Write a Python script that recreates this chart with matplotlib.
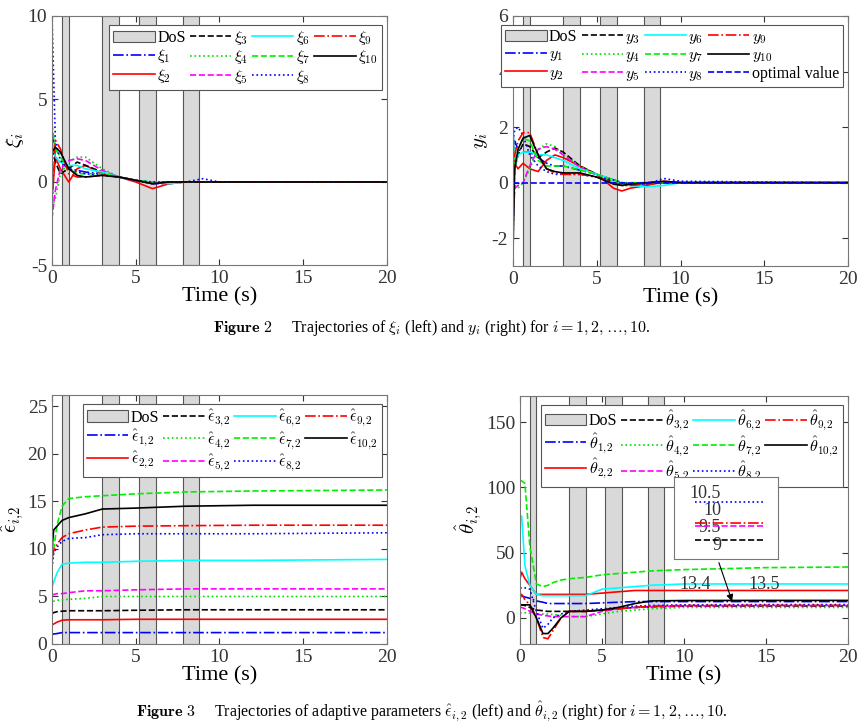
import numpy as np
import matplotlib
matplotlib.use("Agg")
import matplotlib.pyplot as plt

plt.rcParams['font.family'] = ['Liberation Serif', 'DejaVu Serif']
plt.rcParams['mathtext.fontset'] = 'cm'
plt.rcParams['axes.unicode_minus'] = False

# DoS intervals (s)
dos = [(0.6, 1.0), (3.0, 4.0), (5.2, 6.2), (7.8, 8.8)]

# ---- Figure 2 left: xi_i ----
t_xi = [0, 0.2, 0.5, 1, 1.5, 2, 3, 4, 5, 6, 7, 8, 9, 10, 20]
xi = [
    [3, 1.5, 1.2, 0.8, 0.7, 0.6, 0.5, 0.3, 0.1, -0.1, -0.1, 0, 0, 0, 0],
    [-1, 1.5, 0.8, 0, 0.8, 1.0, 0.5, 0.3, 0, -0.4, -0.1, 0, 0, 0, 0],
    [2, 1.2, 0.5, 0.8, 1.2, 1.0, 0.6, 0.3, 0.1, -0.1, 0, 0, 0, 0, 0],
    [-1.5, -1, 0.5, 1.2, 1.5, 1.5, 0.8, 0.3, 0.1, -0.1, 0, 0, 0, 0, 0],
    [-2.2, -0.5, 0.8, 1.3, 1.4, 1.3, 0.7, 0.3, 0.1, -0.1, 0, 0, 0, 0, 0],
    [2.5, 1.5, 1.2, 1.0, 1.0, 0.8, 0.6, 0.3, 0.1, 0, -0.1, 0, 0, 0, 0],
    [3.5, 2.0, 1.5, 0.8, 0.5, 0.5, 0.5, 0.3, 0.1, 0, 0, 0, 0, 0, 0],
    [10, 2.5, 1.3, 0.8, 0.6, 0.5, 0.4, 0.3, 0.1, 0, 0, 0, 0.2, 0, 0],
    [-1.5, 2.5, 2.0, 0.5, 0.3, 0.3, 0.4, 0.3, 0.1, -0.1, 0, 0, 0, 0, 0],
    [1.8, 2.1, 1.8, 0.8, 0.4, 0.3, 0.4, 0.3, 0.1, -0.1, 0, 0, 0, 0, 0],
]

# ---- Figure 2 right: y_i ----
t_y = [0, 0.1, 0.3, 0.6, 1, 1.5, 2, 2.5, 3, 4, 5, 6, 6.5, 7, 8, 9, 10, 20]
yv = [
    [-1.8, 1.5, 1.2, 1.1, 1.1, 0.9, 0.7, 0.6, 0.6, 0.45, 0.3, 0.1, 0, -0.05, -0.05, 0, 0, 0],
    [1.8, 0.7, 0.5, 0.7, 0.5, 0.4, 0.8, 1.0, 0.9, 0.6, 0.3, -0.2, -0.3, -0.2, -0.1, 0.05, 0, 0],
    [-1, 0.5, 1.0, 1.4, 1.3, 0.9, 1.1, 1.25, 1.1, 0.6, 0.3, 0, -0.05, -0.05, 0, 0, 0, 0],
    [-2, -0.1, -0.2, 0, 0.5, 1.2, 1.4, 1.3, 1.0, 0.6, 0.3, 0, -0.1, -0.1, -0.05, 0, 0, 0],
    [-1.5, -0.2, -0.1, 0, 0.6, 1.2, 1.3, 1.2, 1.0, 0.55, 0.3, 0.1, 0, -0.05, 0, 0, 0, 0],
    [2.0, 0.5, 1.0, 1.1, 1.1, 1.0, 1.0, 0.9, 0.8, 0.5, 0.3, 0.1, -0.05, -0.1, -0.15, -0.1, 0, 0],
    [1.2, 0.5, 1.2, 1.6, 1.5, 0.8, 0.6, 0.6, 0.6, 0.45, 0.3, 0.1, 0, 0, 0, 0, 0, 0],
    [1.5, 1.9, 2.0, 1.7, 1.0, 0.6, 0.4, 0.3, 0.3, 0.3, 0.2, 0.1, 0, -0.05, -0.05, 0.15, 0.05, 0],
    [-1, 1.0, 1.5, 1.8, 1.8, 1.0, 0.5, 0.35, 0.3, 0.3, 0.2, 0, -0.1, -0.1, -0.05, 0, 0, 0],
    [-2.5, 0.5, 1.2, 1.6, 1.7, 1.0, 0.5, 0.4, 0.35, 0.35, 0.2, -0.05, -0.1, -0.05, 0, 0.05, 0, 0],
]
y_opt = [0, 0]
t_opt = [0, 20]

# ---- Figure 3 left: eps_hat_{i,2} ----
t_eps = [0, 0.1, 0.3, 0.6, 1, 2, 3, 5, 8, 12, 20]
eps = [
    [1.0, 1.05, 1.1, 1.2, 1.2, 1.2, 1.2, 1.2, 1.2, 1.2, 1.2],
    [2.0, 2.1, 2.3, 2.5, 2.55, 2.55, 2.55, 2.6, 2.6, 2.6, 2.6],
    [3.2, 3.3, 3.4, 3.45, 3.5, 3.5, 3.5, 3.55, 3.6, 3.6, 3.6],
    [4.0, 4.5, 4.6, 4.65, 4.7, 4.8, 5.0, 5.0, 5.0, 5.0, 5.0],
    [5.2, 5.2, 5.3, 5.3, 5.4, 5.6, 5.6, 5.7, 5.8, 5.8, 5.8],
    [6.0, 6.5, 7.5, 8.4, 8.5, 8.6, 8.6, 8.7, 8.8, 8.8, 8.9],
    [9.0, 10, 12.5, 14.5, 15.3, 15.5, 15.6, 15.8, 16.0, 16.1, 16.2],
    [8.0, 9.5, 10.2, 10.8, 11.1, 11.2, 11.5, 11.6, 11.6, 11.6, 11.7],
    [9.0, 9.8, 10.5, 11.2, 11.6, 12.0, 12.3, 12.4, 12.45, 12.5, 12.5],
    [10, 12, 12.4, 13.0, 13.3, 13.7, 14.2, 14.3, 14.5, 14.6, 14.6],
]

# ---- Figure 3 right: theta_hat_{i,2} ----
t_th = [0, 0.1, 0.3, 0.6, 1, 1.4, 1.7, 2, 2.5, 3, 4, 5, 6, 7, 8, 10, 15, 20]
theta = [
    [17, 17, 16, 15, 13, 12, 11, 11, 11, 11, 11, 11.5, 12, 12.5, 12.5, 12.5, 12.5, 12.5],
    [30, 35, 30, 25, 18, 18, 18, 18, 18, 18, 18, 19, 20, 21, 21, 21, 21, 21],
    [10, 10, 9.5, 8, 6, 5.5, 5, 5, 5, 5, 5, 6, 7, 8, 8.5, 9, 9.1, 9.1],
    [4, 4, 4, 3.5, 3, 3, 3, 2.5, 2, 1, 1, 3, 5, 6, 7, 8, 8, 8],
    [8, 8, 7, 5, 3, 2, 1.5, 1, 1, 1, 1, 5, 7, 8, 8.5, 9.2, 9.5, 9.5],
    [75, 78, 40, 25, 18, 17, 17, 17, 17, 17, 17, 22, 23, 24, 25, 26, 26, 26],
    [105, 105, 103, 55, 26, 24, 25, 27, 29, 30, 31, 33, 34, 35, 36, 37, 38.5, 39],
    [23, 23, 23, 22, 5, -8, -5, 0, 3, 5, 6, 7, 8, 9, 9.5, 10, 10.2, 10.2],
    [15, 18, 14, 10, 0, -15, -16, -10, 0, 5, 5, 6, 7, 8, 9, 9.5, 9.6, 9.6],
    [10, 10, 10, 10, 0, -12, -12, -8, 0, 5, 5, 6, 8, 11, 13, 13.3, 13.4, 13.4],
]

colors = ['#0000FF', '#FF0000', '#000000', '#00DD00', '#FF00FF',
          '#00FFFF', '#00EE00', '#0000FF', '#FF0000', '#000000']
styles = ['-.', '-', '--', ':', '--', '-', '--', ':', '-.', '-']

W, H = 864, 724
fig = plt.figure(figsize=(W / 100, H / 100), dpi=100)


def px_axes(x0, y0, x1, y1):
    return fig.add_axes([x0 / W, 1 - y1 / H, (x1 - x0) / W, (y1 - y0) / H])


def panel(ax, t, series, labels, ylim, yticks, ylabel, extra=None):
    for a, b in dos:
        ax.axvspan(a, b, facecolor='#d9d9d9', edgecolor='#555555', lw=0.8, zorder=0)
    handles = [plt.Rectangle((0, 0), 1, 1, facecolor='#d9d9d9', edgecolor='#555555', lw=0.8)]
    for s, c, ls in zip(series, colors, styles):
        h, = ax.plot(t, s, color=c, ls=ls, lw=1.2, zorder=2)
        handles.append(h)
    if extra is not None:
        h, = ax.plot(*extra, color='#0000FF', ls='--', lw=1.2, zorder=2)
        handles.append(h)
        labels = labels + ['optimal value']
    ax.set_xlim(0, 20)
    ax.set_ylim(*ylim)
    ax.set_xticks([0, 5, 10, 15, 20])
    ax.set_yticks(yticks)
    ax.tick_params(direction='in', top=True, right=True, labelsize=14,
                   colors='#333333', length=4)
    for sp in ax.spines.values():
        sp.set_color('#777777')
    ax.set_xlabel('Time (s)', fontsize=16, labelpad=0)
    ax.set_ylabel(ylabel, fontsize=15, labelpad=1)
    leg = ax.legend(handles, ['DoS'] + labels, ncol=4, loc='upper right',
                    bbox_to_anchor=(0.985, 0.965), fontsize=11.5, handlelength=2.6,
                    handletextpad=0.15, columnspacing=0.25, labelspacing=0.1,
                    borderpad=0.25, borderaxespad=0, fancybox=False,
                    edgecolor='#555555', framealpha=1)
    leg.get_frame().set_linewidth(0.8)
    return ax


ax1 = px_axes(52, 16, 387, 265)
panel(ax1, t_xi, xi, [rf'$\xi_{{{i}}}$' for i in range(1, 11)],
      (-5, 10), [-5, 0, 5, 10], r'$\xi_i$')

ax2 = px_axes(513, 16, 848, 266)
panel(ax2, t_y, yv, [rf'$y_{{{i}}}$' for i in range(1, 11)],
      (-3, 6), [-2, 0, 2, 4, 6], r'$y_i$', extra=(t_opt, y_opt))

ax3 = px_axes(52, 395, 387, 644)
panel(ax3, t_eps, eps, [rf'$\hat{{\epsilon}}_{{{i},\!2}}$' for i in range(1, 11)],
      (0, 26.2), [0, 5, 10, 15, 20, 25], r'$\hat{\epsilon}_{i,\!2}$')

ax4 = px_axes(520, 396, 848, 644)
panel(ax4, t_th, theta, [rf'$\hat{{\theta}}_{{{i},\!2}}$' for i in range(1, 11)],
      (-20, 170), [0, 50, 100, 150], r'$\hat{\theta}_{i,\!2}$')

# inset zoom
axin = px_axes(674, 477, 778, 559)
for k in [2, 4, 7, 8, 1]:
    axin.plot([13.4, 13.5], [theta[k][-1], theta[k][-1]], color=colors[k], ls=styles[k], lw=1.2)
axin.set_xlim(13.37, 13.52)
axin.set_ylim(8.53, 10.94)
axin.set_yticks([9, 9.5, 10, 10.5])
axin.set_yticklabels(['9', '9.5', '10', '10.5'])
axin.set_xticks([13.4, 13.5])
axin.tick_params(axis='y', direction='in', labelsize=13, colors='#333333', length=0, pad=-34)
axin.tick_params(axis='x', direction='in', labelsize=13, colors='#333333', length=0, pad=12)
for lab in axin.get_yticklabels():
    lab.set_horizontalalignment('right')
for sp in axin.spines.values():
    sp.set_color('#777777')
fig.add_artist(matplotlib.patches.FancyArrowPatch(
    (718 / W, 1 - 560 / H), (733 / W, 1 - 604 / H), transform=fig.transFigure,
    arrowstyle='-|>', mutation_scale=10, color='black', lw=0.8))

fig.text(0.5, 1 - 328 / H,
         r'$\mathbf{Figure\ 2}$     Trajectories of $\xi_i$ (left) and $y_i$ (right) for $i = 1, 2, \ldots, 10$.',
         ha='center', va='center', fontsize=11.5)
fig.text(0.5, 1 - 711 / H,
         r'$\mathbf{Figure\ 3}$     Trajectories of adaptive parameters $\hat{\epsilon}_{i,2}$ (left) and $\hat{\theta}_{i,2}$ (right) for $i = 1, 2, \ldots, 10$.',
         ha='center', va='center', fontsize=11.5)

fig.savefig('out.png', dpi=100)
